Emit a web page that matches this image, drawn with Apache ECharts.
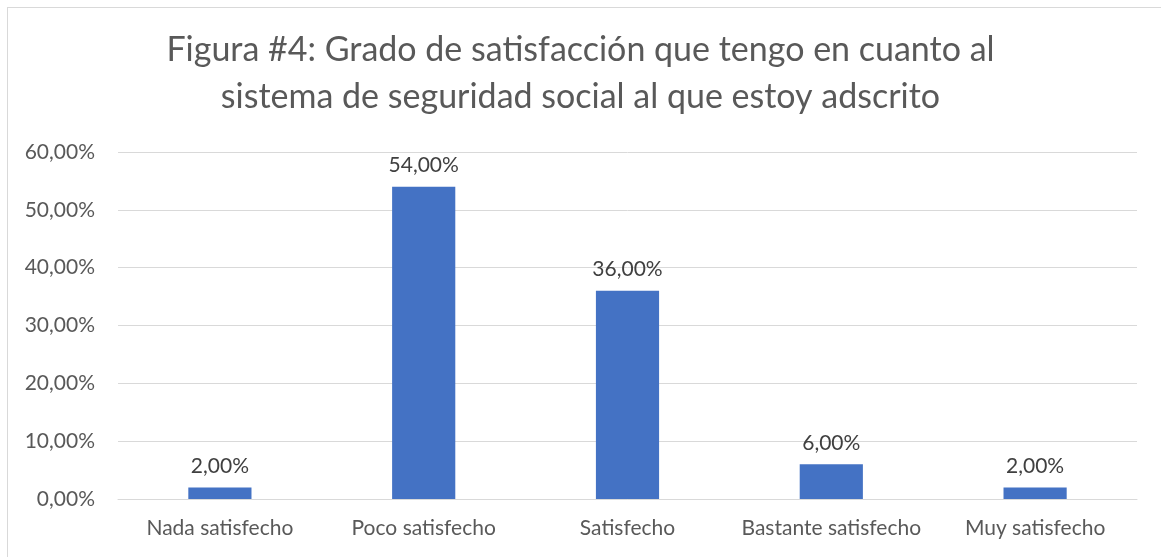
<!DOCTYPE html>
<html>
<head>
<meta charset="utf-8">
<script src="https://cdn.jsdelivr.net/npm/echarts@6/dist/echarts.min.js"></script>
<style>
  html, body { margin: 0; padding: 0; background: #fff; }
  #frame { position: absolute; left: 7px; top: 7px; width: 1160px; height: 560px; border: 1px solid #d9d9d9; box-sizing: border-box; }
  #chart { width: 1161px; height: 557px; position: absolute; left: 0; top: 0; }
</style>
</head>
<body>
<div id="frame"></div>
<div id="chart"></div>
<script>
// categorías y valores (%)
const categories = ['Nada satisfecho', 'Poco satisfecho', 'Satisfecho', 'Bastante satisfecho', 'Muy satisfecho'];
const values = [2, 54, 36, 6, 2];
const titleLines = ['Figura #4: Grado de satisfacción que tengo en cuanto al', 'sistema de seguridad social al que estoy adscrito'];

const fmt = v => v.toFixed(2).replace('.', ',') + '%';
const FONT = 'Lato';

const chart = echarts.init(document.getElementById('chart'));
chart.setOption({
  animation: false,
  title: {
    text: titleLines.join('\n'),
    left: 'center',
    top: 22,
    textStyle: { fontFamily: FONT, fontSize: 34, fontWeight: 'normal', color: '#595959', lineHeight: 47 }
  },
  grid: { left: 118, right: 24, top: 152, bottom: 58 },
  xAxis: {
    type: 'category',
    data: categories,
    axisLine: { lineStyle: { color: '#d9d9d9', width: 1 } },
    axisTick: { show: false },
    axisLabel: { interval: 0, hideOverlap: false, fontFamily: FONT, fontSize: 21, color: '#595959', margin: 19 }
  },
  yAxis: {
    type: 'value',
    min: 0,
    max: 60,
    interval: 10,
    axisLabel: { formatter: fmt, fontFamily: FONT, fontSize: 21, color: '#595959', margin: 23 },
    splitLine: { lineStyle: { color: '#d9d9d9', width: 1 } },
    axisLine: { show: false },
    axisTick: { show: false }
  },
  series: [{
    type: 'bar',
    data: values,
    barWidth: '31%',
    itemStyle: { color: '#4472c4' },
    label: {
      show: true,
      position: 'top',
      distance: 11,
      formatter: p => fmt(p.value),
      fontFamily: FONT,
      fontSize: 21,
      color: '#404040'
    }
  }]
});
</script>
</body>
</html>
